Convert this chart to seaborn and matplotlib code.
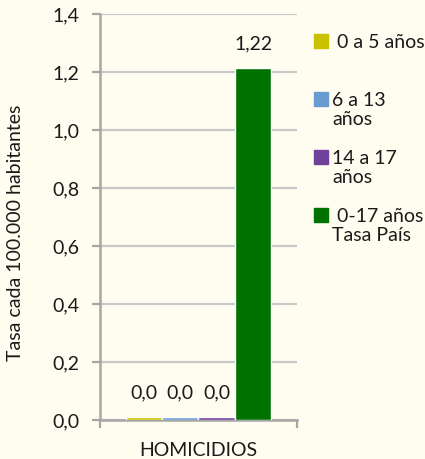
import seaborn as sns
import matplotlib.pyplot as plt
from matplotlib.patches import Rectangle
from matplotlib.ticker import FuncFormatter

# data
categoria = ["HOMICIDIOS"]
grupos = ["0 a 5 años", "6 a 13 años", "14 a 17 años", "0-17 años Tasa País"]
tasas = [0.01, 0.01, 0.01, 1.215]
etiquetas = ["0,0", "0,0", "0,0", "1,22"]
colores = ["#C9C100", "#6A9BD0", "#71409B", "#007200"]

fondo = "#FFFDF0"
fs = 14

sns.set_theme(style="white")
plt.rcParams['font.family'] = ['Lato', 'DejaVu Sans']

fig = plt.figure(figsize=(4.25, 4.59), dpi=100, facecolor=fondo)
ax = fig.add_axes([0.2353, 0.085, 0.4635, 0.8845], facecolor=fondo)

ax.grid(axis="y", color="#C8C8C8", linewidth=1.6, zorder=0)
ax.set_axisbelow(True)

sns.barplot(x=categoria * len(grupos), y=tasas, hue=grupos, hue_order=grupos,
            palette=colores, width=0.74, gap=0, saturation=1, legend=False,
            ax=ax, zorder=3)

for cont, txt in zip(ax.containers, etiquetas):
    ax.bar_label(cont, labels=[txt], padding=11, fontsize=fs, color="#1A1A1A")

ax.set_xlim(-0.5, 0.5)
ax.set_ylim(0, 1.4)
ax.set_yticks([0, 0.2, 0.4, 0.6, 0.8, 1.0, 1.2, 1.4])
ax.yaxis.set_major_formatter(FuncFormatter(lambda v, p: f"{v:.1f}".replace(".", ",")))
ax.tick_params(axis="y", left=True, length=6, width=1.6, color="#A6A6A6",
               pad=9, labelsize=fs, labelcolor="#1A1A1A")
ax.tick_params(axis="x", length=0, pad=16, labelsize=fs, labelcolor="#1A1A1A")
ax.set_xticks([-0.5, 0.5], minor=True)
ax.tick_params(axis="x", which="minor", bottom=True, length=6, width=1.6, color="#A6A6A6")

for s in ["top", "right"]:
    ax.spines[s].set_visible(False)
for s in ["left", "bottom"]:
    ax.spines[s].set_color("#A6A6A6")
    ax.spines[s].set_linewidth(1.8)

ax.set_xlabel("")
ax.set_ylabel("Tasa cada 100.000 habitantes", fontsize=fs, color="#1A1A1A")
ax.yaxis.set_label_coords(-0.385, 0.46)

# legend: one row per text line, blank rows for spacing
vacio = Rectangle((0, 0), 1, 1, visible=False)
cuadro = [Rectangle((0, 0), 1, 1, color=c) for c in colores]
handles = [cuadro[0], vacio, vacio, cuadro[1], vacio, vacio,
           cuadro[2], vacio, vacio, cuadro[3], vacio]
labels = [" 0 a 5 años", "", "", "6 a 13", "años", "", "14 a 17", "años", "",
          " 0-17 años", "Tasa País"]
fig.legend(handles, labels, loc="upper left", bbox_to_anchor=(0.738, 0.926),
           frameon=False, fontsize=fs, handlelength=0.75, handleheight=0.75,
           handletextpad=0.2, labelspacing=0.12, borderaxespad=0, borderpad=0,
           labelcolor="#1A1A1A")

fig.savefig("out.png", dpi=100, facecolor=fondo)
